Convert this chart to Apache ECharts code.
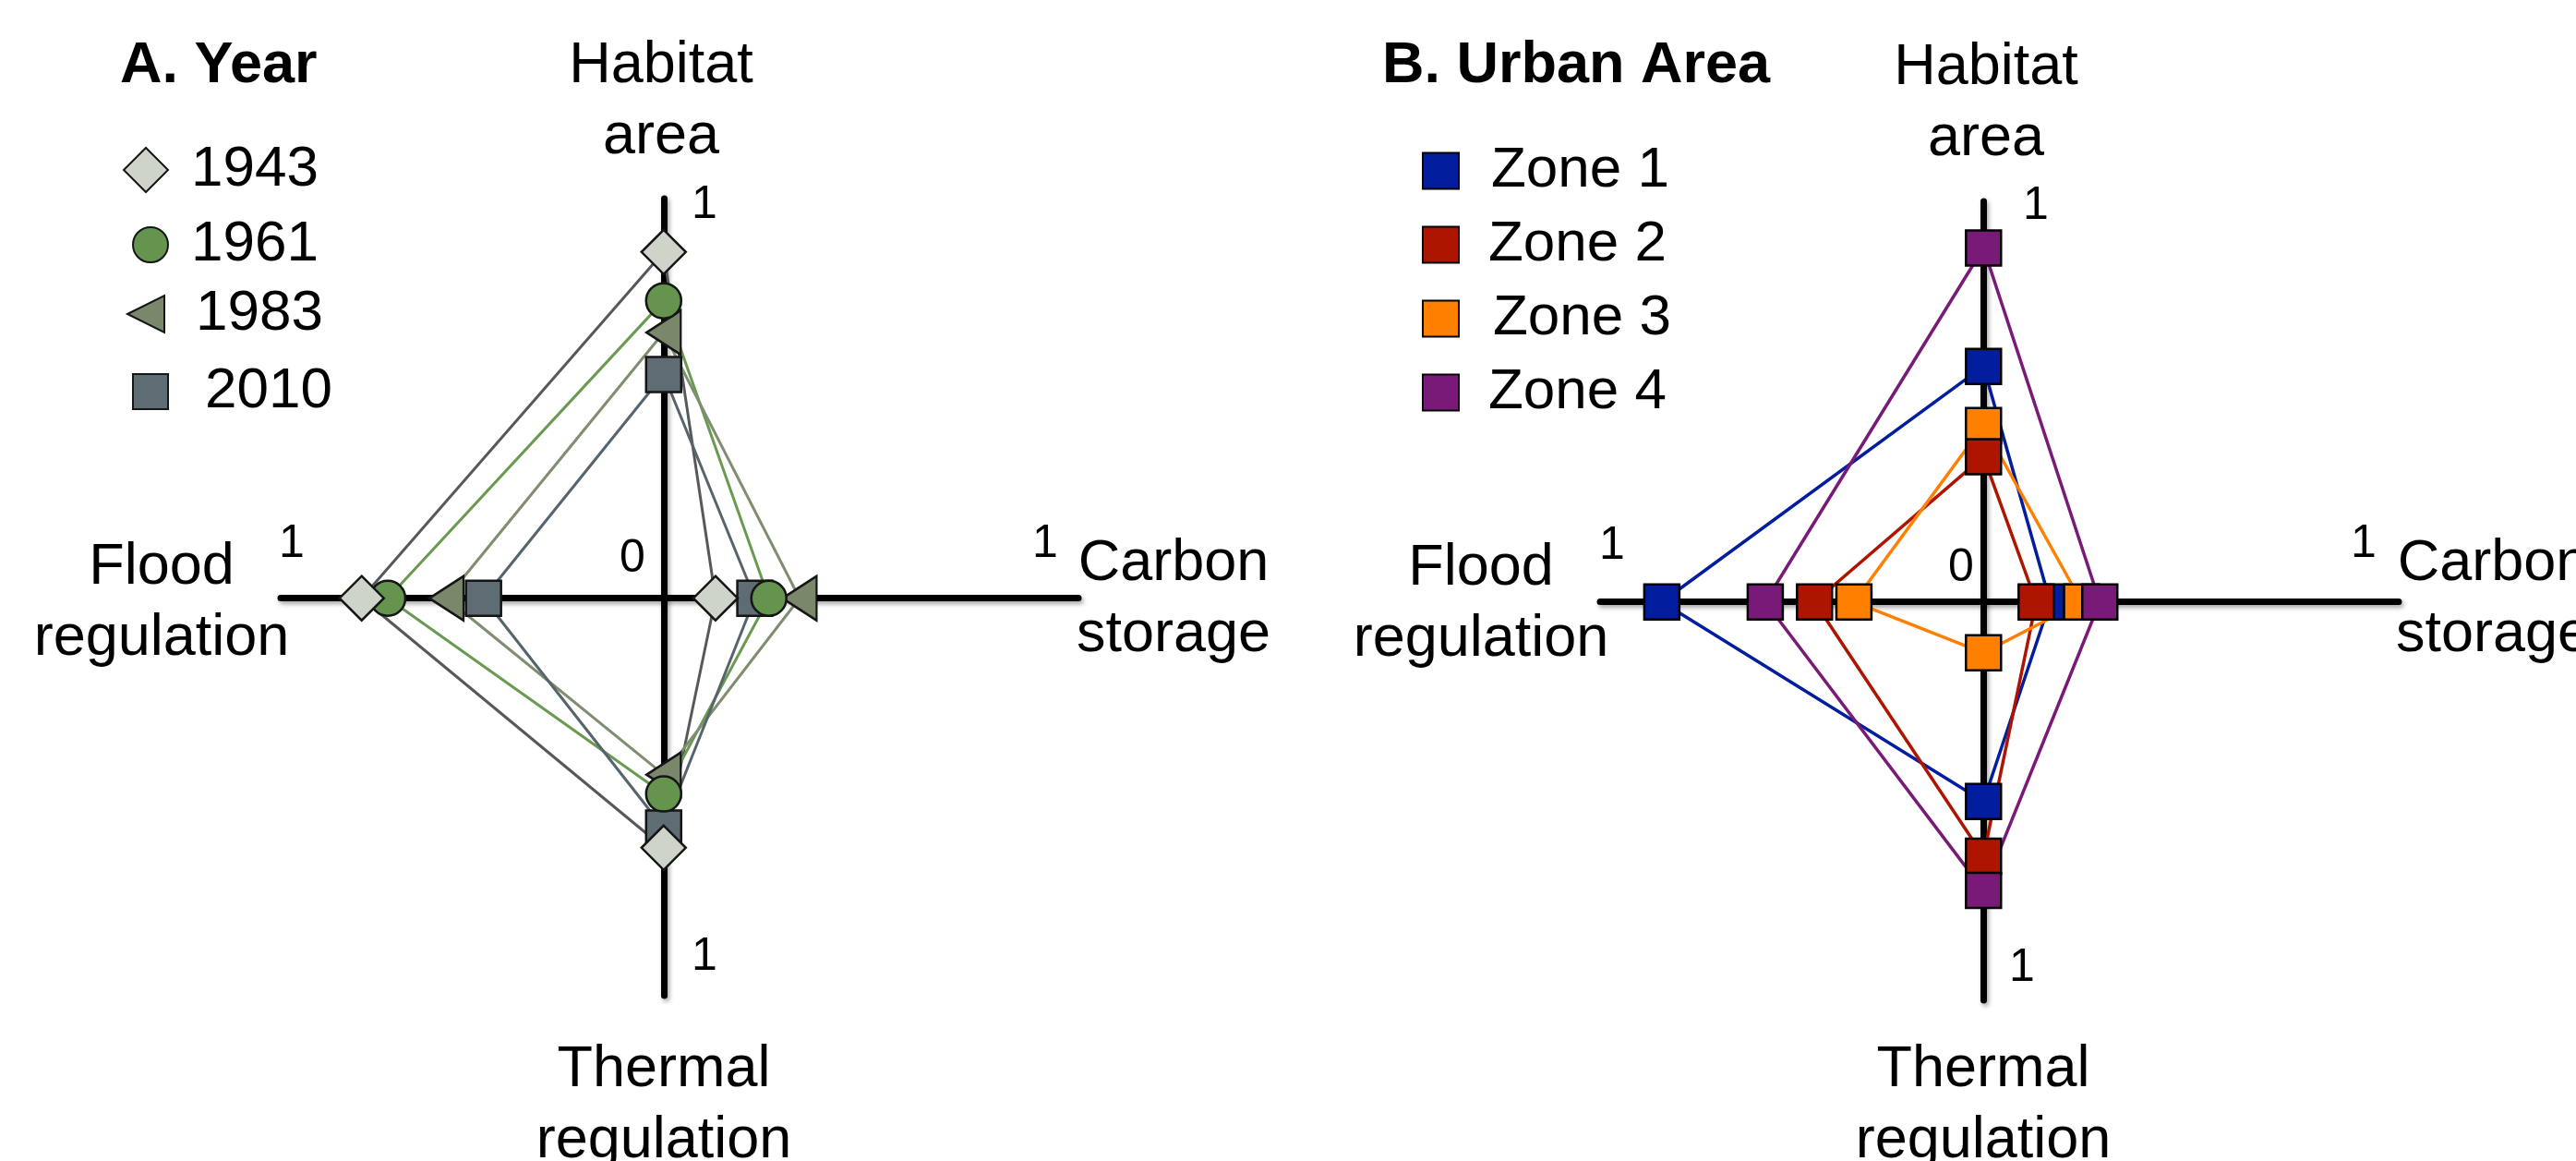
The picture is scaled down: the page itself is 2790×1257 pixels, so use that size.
<!DOCTYPE html>
<html>
<head>
<meta charset="utf-8">
<script src="https://cdn.jsdelivr.net/npm/echarts@6/dist/echarts.min.js"></script>
<style>
html,body{margin:0;padding:0;background:#fff;}
#chart{width:2790px;height:1257px;}
</style>
</head>
<body>
<div id="chart"></div>
<script>
// ---------- data ----------
const axisNames = ['Habitat\narea', 'Carbon\nstorage', 'Thermal\nregulation', 'Flood\nregulation'];
const tickOne = '1';
const tickZero = '0';

const panelTitles = ['A. Year', 'B. Urban Area'];

const years = ['1943', '1961', '1983', '2010'];
const habitatA = [0.915, 0.786, 0.702, 0.591];
const carbonA  = [0.137, 0.278, 0.359, 0.241];
const thermalA = [0.659, 0.517, 0.466, 0.607];
const floodA   = [0.798, 0.729, 0.574, 0.476];

const zones = ['Zone 1', 'Zone 2', 'Zone 3', 'Zone 4'];
const habitatB = [0.621, 0.383, 0.465, 0.933];
const carbonB  = [0.176, 0.139, 0.259, 0.307];
const thermalB = [0.526, 0.670, 0.134, 0.760];
const floodB   = [0.849, 0.446, 0.342, 0.576];

// ---------- styles ----------
const FONT = "'Liberation Sans', Arial, Helvetica, sans-serif";
const TRI_LEFT = 'path://M0,50 L100,0 L100,100 Z';
const yearStyle = [
  {symbol:'diamond', size:[48,48], fill:'#cfd4ca', line:'#56595c', z:9, leg:{left:133, top:153, w:48, h:48, pad:20}},
  {symbol:'circle',  size:[38,38], fill:'#65944e', line:'#6a9a52', z:8, leg:{left:143, top:234, w:38, h:38, pad:20}},
  {symbol:TRI_LEFT,  size:[37,48], fill:'#7a876a', line:'#7f8e6e', z:7, leg:{left:137, top:309, w:40, h:48, pad:29}},
  {symbol:'rect',    size:[38,38], fill:'#5e6c74', line:'#56646d', z:6, leg:{left:143, top:393, w:38, h:38, pad:35}}
];
const zoneStyle = [
  {color:'#021d9e', z:6, leg:{top:154, pad:30}},
  {color:'#ae1500', z:8, leg:{top:234, pad:27}},
  {color:'#ff7f00', z:7, leg:{top:314, pad:32}},
  {color:'#7a1a78', z:9, leg:{top:394, pad:27}}
];

function polygon(h, c, t, f) { return [[0, h], [c, 0], [0, -t], [-f, 0], [0, h]]; }
function vertices(h, c, t, f) { return [[0, h], [c, 0], [0, -t], [-f, 0]]; }

const axisLine = {
  show: true, onZero: true,
  lineStyle: {color: '#000', width: 7, shadowColor: 'rgba(0,0,0,0.35)', shadowBlur: 5, shadowOffsetX: 2, shadowOffsetY: 3}
};
function valAxis(grid, min, max) {
  return {
    type: 'value', gridIndex: grid, min: min, max: max,
    axisLine: axisLine, axisTick: {show: false}, axisLabel: {show: false}, splitLine: {show: false}
  };
}

const series = [];
const legends = [];

years.forEach((y, i) => {
  const s = yearStyle[i];
  series.push({
    type: 'line', name: y + ' outline', xAxisIndex: 0, yAxisIndex: 0,
    data: polygon(habitatA[i], carbonA[i], thermalA[i], floodA[i]),
    symbol: 'none', lineStyle: {color: s.line, width: 3}, z: 3, silent: true
  });
});
years.forEach((y, i) => {
  const s = yearStyle[i];
  series.push({
    type: 'scatter', name: y, xAxisIndex: 0, yAxisIndex: 0,
    data: vertices(habitatA[i], carbonA[i], thermalA[i], floodA[i]),
    symbol: s.symbol, symbolSize: s.size,
    itemStyle: {color: s.fill, borderColor: '#151515', borderWidth: 2.5, opacity: 1},
    emphasis: {disabled: true}, z: s.z, silent: true
  });
  legends.push({
    data: [y], left: s.leg.left, top: s.leg.top, padding: 0,
    itemWidth: s.leg.w, itemHeight: s.leg.h, selectedMode: false,
    textStyle: {fontSize: 62, fontFamily: FONT, color: '#000', lineHeight: s.leg.h, padding: [0, 0, 0, s.leg.pad]}
  });
});

zones.forEach((zn, i) => {
  const s = zoneStyle[i];
  series.push({
    type: 'line', name: zn + ' outline', xAxisIndex: 1, yAxisIndex: 1,
    data: polygon(habitatB[i], carbonB[i], thermalB[i], floodB[i]),
    symbol: 'none', lineStyle: {color: s.color, width: 3.5}, z: 3, silent: true
  });
});
zones.forEach((zn, i) => {
  const s = zoneStyle[i];
  series.push({
    type: 'scatter', name: zn, xAxisIndex: 1, yAxisIndex: 1,
    data: vertices(habitatB[i], carbonB[i], thermalB[i], floodB[i]),
    symbol: 'rect', symbolSize: 38,
    itemStyle: {color: s.color, borderColor: '#000', borderWidth: 2.5, opacity: 1},
    emphasis: {disabled: true}, z: s.z, silent: true
  });
  legends.push({
    data: [zn], left: 1540, top: s.leg.top, padding: 0,
    itemWidth: 39, itemHeight: 39, selectedMode: false,
    textStyle: {fontSize: 62, fontFamily: FONT, color: '#000', lineHeight: 39, padding: [0, 0, 0, s.leg.pad]}
  });
});

// ---------- text ----------
const MID = 0.3465;
function txt(str, x, baseline, size, opts) {
  opts = opts || {};
  const lh = opts.lh || Math.round(size * 1.15);
  return {
    type: 'text', x: x, y: baseline - lh / 2 - MID * size, silent: true,
    style: {
      text: str, fontSize: size, fontFamily: FONT, fontWeight: opts.bold ? 'bold' : 'normal',
      fill: '#000', align: opts.align || 'center', verticalAlign: 'top', lineHeight: lh
    }
  };
}
const graphics = [
  txt(panelTitles[0], 130, 93, 63, {bold: true, align: 'left'}),
  txt(panelTitles[1], 1497, 93, 63, {bold: true, align: 'left'}),
  // panel A axis names
  txt(axisNames[0], 716, 93, 63, {lh: 77}),
  txt(axisNames[1], 1271, 632, 63, {lh: 77}),
  txt(axisNames[2], 719, 1180, 63, {lh: 77}),
  txt(axisNames[3], 175, 636, 63, {lh: 77}),
  // panel B axis names
  txt(axisNames[0], 2151, 95, 63, {lh: 77}),
  txt(axisNames[1], 2700, 632, 63, {lh: 77}),
  txt(axisNames[2], 2148, 1180, 63, {lh: 77}),
  txt(axisNames[3], 1604, 637, 63, {lh: 77}),
  // tick labels A
  txt(tickOne, 763, 240, 50),
  txt(tickOne, 1132, 607, 50),
  txt(tickOne, 763, 1054, 50),
  txt(tickOne, 316, 607, 50),
  txt(tickZero, 685, 623, 50),
  // tick labels B
  txt(tickOne, 2205, 241, 50),
  txt(tickOne, 2560, 607, 50),
  txt(tickOne, 2190, 1066, 50),
  txt(tickOne, 1746, 609, 50),
  txt(tickZero, 2124, 633, 50)
];

const chart = echarts.init(document.getElementById('chart'), null, {renderer: 'canvas'});
chart.setOption({
  backgroundColor: '#fff',
  animation: false,
  grid: [
    {left: 304, top: 215, width: 864, height: 863},
    {left: 1733, top: 218, width: 865, height: 865}
  ],
  xAxis: [valAxis(0, -1.012, 1.096), valAxis(1, -1.012, 1.096)],
  yAxis: [valAxis(0, -1.05, 1.056), valAxis(1, -1.05, 1.056)],
  legend: legends,
  series: series,
  graphic: graphics
});
</script>
</body>
</html>
